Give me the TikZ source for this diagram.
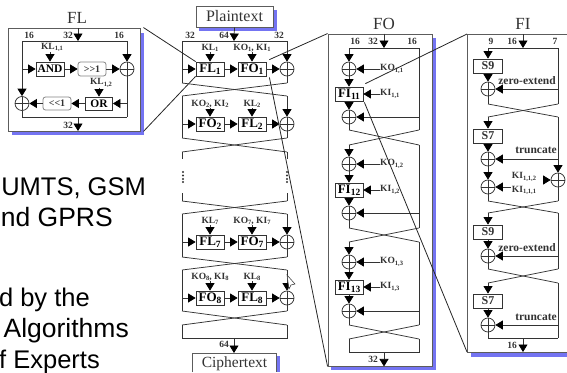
\documentclass[tikz,border=0pt]{standalone}
\usepackage{fontspec}
\setmainfont{Liberation Serif}
\newfontfamily\armfont{Liberation Sans}
\usetikzlibrary{arrows.meta}
\definecolor{ink}{HTML}{333333}
\definecolor{shadeblue}{HTML}{7474F2}
\newcommand\sbs[1]{\raisebox{-1.6pt}{\fontsize{6.5}{6.5}\selectfont #1}}
\newcommand\bsb[1]{\raisebox{-2pt}{\fontsize{9.5}{9.5}\selectfont #1}}
\tikzset{
  line/.style={draw=ink,line width=.75pt},
  arr/.style={line,-{Triangle[length=7.5pt,width=9pt,color=black,fill=black]}},
  panel/.style={draw=ink!80,line width=.9pt,fill=white,inner sep=0pt},
  kbox/.style={draw=ink,line width=.8pt,fill=white,inner sep=0pt,minimum height=14pt,font=\fontsize{13}{13}\selectfont\bfseries},
  rbox/.style={draw=ink!60,line width=.8pt,rounded corners=2.5pt,fill=white,inner sep=0pt,minimum height=14pt,minimum width=28pt,font=\fontsize{10}{12}\selectfont\bfseries,text=ink},
  lab/.style={inner sep=0pt,text=ink,font=\fontsize{9.5}{10}\selectfont\bfseries},
  title/.style={inner sep=0pt,text=ink,font=\fontsize{17}{17}\selectfont},
  xorn/.style={circle,draw=ink,line width=.75pt,minimum size=14pt,inner sep=0pt,
    path picture={\draw[ink,line width=.7pt] (path picture bounding box.north)--(path picture bounding box.south)
      (path picture bounding box.west)--(path picture bounding box.east);}},
  bigtext/.style={inner sep=0pt,anchor=base east,font=\armfont\fontsize{25.5}{26}\selectfont,text=black},
  zoomline/.style={draw=black!85,line width=.8pt},
  dotmark/.style={fill=ink}
}
% main-cipher round: id, top, bottom, centre y, box1, box2, lab1, lab2, label y
\newcommand\mround[9]{
  \coordinate (#1tl) at (182,#2); \coordinate (#1tr) at (287,#2);
  \coordinate (#1bl) at (182,#3); \coordinate (#1br) at (287,#3);
  \coordinate (#1in) at (182,#4);
  \node[kbox,minimum width=28pt] (#1a) at (210,#4) {#5};
  \node[kbox,minimum width=28pt] (#1b) at (252,#4) {#6};
  \node[xorn] (#1x) at (287,#4) {};
  \node[lab] (#1la) at (210,#9) {#7};
  \node[lab] (#1lb) at (252,#9) {#8};
  \draw[line] (#1tl)--(#1bl);
  \draw[arr] (#1tr)--(#1x);
  \draw[line] (#1x)--(#1br);
  \draw[arr] (#1in)--(#1a);
  \draw[arr] (#1a)--(#1b);
  \draw[arr] (#1b)--(#1x);
  \draw[arr] (#1la.south)--(#1a.north);
  \draw[arr] (#1lb.south)--(#1b.north);
}
\newcommand\crossing[2]{\draw[line] (#1bl)--(#2tr); \draw[line] (#1br)--(#2tl);}
% FO round: id, top, bottom, xor1 y, FI y, xor2 y, FI subscript, KO sub, KI sub
\newcommand\foround[9]{
  \coordinate (#1tl) at (349,#2); \coordinate (#1tr) at (419,#2);
  \coordinate (#1bl) at (349,#3); \coordinate (#1br) at (419,#3);
  \coordinate (#1s) at (419,#6);
  \node[xorn] (#1x) at (349,#4) {};
  \node[kbox,minimum width=28pt] (#1f) at (349,#5) {FI\bsb{#7}};
  \node[xorn] (#1y) at (349,#6) {};
  \node[lab,anchor=west] (#1ko) at (380,#4) {KO\sbs{#8}};
  \node[lab,anchor=west] (#1ki) at (380,#5) {KI\sbs{#9}};
  \draw[arr] (#1tl)--(#1x);
  \draw[arr] (#1x)--(#1f);
  \draw[arr] (#1f)--(#1y);
  \draw[line] (#1y)--(#1bl);
  \draw[line] (#1tr)--(#1br);
  \draw[arr] (#1ko)--(#1x);
  \draw[arr] (#1ki)--(#1f);
  \draw[arr] (#1s)--(#1y);
}
% FI round: id, top, bottom, box y, xor y, box text, label, label x, label y
\newcommand\firound[9]{
  \coordinate (#1tl) at (488,#2); \coordinate (#1tr) at (558,#2);
  \coordinate (#1bl) at (488,#3); \coordinate (#1br) at (558,#3);
  \coordinate (#1s) at (558,#5);
  \node[kbox,minimum width=29pt,font=\fontsize{12}{12}\selectfont\bfseries,text=ink] (#1b) at (488,#4) {#6};
  \node[xorn] (#1x) at (488,#5) {};
  \node[lab,font=\fontsize{11.5}{12}\selectfont\bfseries] (#1l) at (#8,#9) {#7};
  \draw[arr] (#1tl)--(#1b);
  \draw[arr] (#1b)--(#1x);
  \draw[arr] (#1s)--(#1x);
}
\begin{document}
\begin{tikzpicture}[x=1pt,y=-1pt]
\useasboundingbox (0,0) rectangle (567,372);

% left text
\node[bigtext] (t1) at (146,195) {UMTS, GSM};
\node[bigtext,font=\armfont\fontsize{26.5}{27}\selectfont] (t2) at (113,226) {nd GPRS};
\node[bigtext] (t3) at (90,306) {d by the};
\node[bigtext,font=\armfont\fontsize{26.5}{27}\selectfont] (t4) at (129,337) {Algorithms};
\node[bigtext] (t5) at (100,368) {f Experts};

% ---------- FL panel
\fill[shadeblue] (12,33) rectangle (144,135);
\node[panel,minimum width=132pt,minimum height=103pt] (flp) at (74,79.5) {};
\node[title] (flt) at (77,18) {FL};
\coordinate (fltl) at (22,41); \coordinate (fltr) at (127,41);
\coordinate (flbl) at (22,117); \coordinate (flbr) at (127,117);
\coordinate (fltm) at (78,41); \coordinate (flbm) at (78,117);
\coordinate (flinl) at (22,69); \coordinate (flinr) at (127,103.5);
\coordinate (flin) at (78,28); \coordinate (flout) at (78,131);
\draw[line] (fltl)--(fltr) (flbl)--(flbr);
\node[kbox,minimum width=28pt,font=\fontsize{11.5}{12}\selectfont\bfseries] (fland) at (50,69) {AND};
\node[rbox] (flshr) at (92,69) {>{}>1};
\node[xorn] (flx1) at (127,69) {};
\node[kbox,minimum width=27pt,minimum height=13pt,font=\fontsize{11.5}{12}\selectfont\bfseries] (flor) at (99,103.5) {OR};
\node[rbox,minimum height=13pt] (flshl) at (57,103.5) {<{}<1};
\node[xorn] (flx2) at (22,103.5) {};
\node[lab] (flk1) at (52,47.5) {KL\sbs{1,1}};
\node[lab] (flk2) at (101,83) {KL\sbs{1,2}};
\node[lab] (fla) at (29,35) {16};
\node[lab] (flb) at (68,35) {32};
\node[lab] (flc) at (119,35) {16};
\node[lab] (fld) at (68,125) {32};
\draw[arr] (flin)--(fltm);
\draw[arr] (flbm)--(flout);
\draw[arr] (fltl)--(flx2);
\draw[line] (flx2)--(flbl);
\draw[arr] (fltr)--(flx1);
\draw[line] (flx1)--(flbr);
\draw[arr] (flinl)--(fland);
\draw[arr] (fland)--(flshr);
\draw[arr] (flshr)--(flx1);
\draw[arr] (flinr)--(flor);
\draw[arr] (flor)--(flshl);
\draw[arr] (flshl)--(flx2);
\draw[arr] (fland.north |- flk1.south)--(fland.north);
\draw[arr] (flor.north |- flk2.south)--(flor.north);

% ---------- main cipher
\fill[shadeblue] (199,10) rectangle (277,31);
\node[panel,minimum width=77pt,minimum height=21pt,font=\fontsize{16}{17}\selectfont,text=ink] (pt) at (234.5,16.5) {Plaintext};
\node[lab] (m32a) at (190,35) {32};
\node[lab] (m64a) at (224,35) {64};
\node[lab] (m32b) at (279,35) {32};
\coordinate (mtop) at (234,41);
\draw[arr] (pt.south)--(mtop);
\mround{ma}{41}{83}{69}{FL\bsb{1}}{FO\bsb{1}}{KL\sbs{1}}{KO\sbs{1}, KI\sbs{1}}{48}
\draw[line] (matl)--(matr);
\mround{mb}{96}{138}{124}{FO\bsb{2}}{FL\bsb{2}}{KO\sbs{2}, KI\sbs{2}}{KL\sbs{2}}{104}
\crossing{ma}{mb}
% broken part
\coordinate (mctl) at (182,152); \coordinate (mctr) at (287,152);
\coordinate (mcsl) at (182,159); \coordinate (mcsr) at (287,159);
\crossing{mb}{mc}
\draw[line] (mctl)--(mcsl) (mctr)--(mcsr);
\foreach \yy in {172,175.5,179,182}{
  \fill[dotmark] (183,\yy) circle (1.2);
  \fill[dotmark] (287,\yy) circle (1.2);
}
\coordinate (mdsl) at (182,193); \coordinate (mdsr) at (287,193);
\coordinate (mdbl) at (182,201); \coordinate (mdbr) at (287,201);
\draw[line] (mdsl)--(mdbl) (mdsr)--(mdbr);
\mround{me}{214}{257}{242}{FL\bsb{7}}{FO\bsb{7}}{KL\sbs{7}}{KO\sbs{7}, KI\sbs{7}}{221}
\crossing{md}{me}
\mround{mf}{270}{311}{298}{FO\bsb{8}}{FL\bsb{8}}{KO\sbs{8}, KI\sbs{8}}{KL\sbs{8}}{277}
\crossing{me}{mf}
\coordinate (mgtl) at (182,325); \coordinate (mgtr) at (287,325);
\coordinate (mgbl) at (182,338); \coordinate (mgbr) at (287,338);
\crossing{mf}{mg}
\draw[line] (mgtl)--(mgbl)--(mgbr)--(mgtr);
% ciphertext box, running off the page
\fill[shadeblue] (276,356) rectangle (280,372);
\node[inner sep=0pt,font=\fontsize{15.5}{16}\selectfont,text=ink] (ct) at (234.5,364) {Ciphertext};
\coordinate (ctnw) at (192,353); \coordinate (ctne) at (276,353);
\coordinate (ctsw) at (192,372); \coordinate (ctse) at (276,372);
\draw[line,draw=ink!80] (ctsw)--(ctnw)--(ctne)--(ctse);
\coordinate (mbot) at (234,338); \coordinate (ctin) at (234,353);
\draw[arr] (mbot)--(ctin);
\node[lab] (m64b) at (224,344) {64};
% mouse pointer
\coordinate (cu1) at (287,275); \coordinate (cu2) at (295,284);
\coordinate (cu3) at (291,285); \coordinate (cu4) at (289,289);
\filldraw[fill=white,draw=ink,line width=.5pt] (cu1)--(cu2)--(cu3)--(cu4)--cycle;

% ---------- FO panel
\fill[shadeblue] (331,38) rectangle (436,370);
\node[panel,minimum width=104pt,minimum height=332pt] (fop) at (380,200) {};
\node[title] (fot) at (384,24) {FO};
\node[lab] (foa) at (355,41) {16};
\node[lab] (fob) at (373,41) {32};
\node[lab] (foc) at (412,41) {16};
\coordinate (fotm) at (384,48);
\draw[arr] (fop.north -| fotm)--(fotm);
\foround{fa}{48}{130}{69}{94}{117}{11}{1,1}{1,1}
\draw[line] (fatl)--(fatr);
\foround{fb}{145}{228}{164}{190}{213}{12}{1,2}{1,2}
\crossing{fa}{fb}
\foround{fc}{242}{325}{262}{287}{311}{13}{1,3}{1,3}
\crossing{fb}{fc}
\coordinate (fdtl) at (349,339); \coordinate (fdtr) at (419,339);
\coordinate (fdbl) at (349,352); \coordinate (fdbr) at (419,352);
\crossing{fc}{fd}
\draw[line] (fdtl)--(fdbl)--(fdbr)--(fdtr);
\coordinate (fobm) at (384,352);
\draw[arr] (fobm)--(fobm |- fop.south);
\node[lab] (fod) at (373,359) {32};

% ---------- FI panel, running off the page
\fill[shadeblue] (471,352) rectangle (567,357);
\coordinate (fine) at (567,34); \coordinate (finw) at (467,34);
\coordinate (fisw) at (467,352); \coordinate (fise) at (567,352);
\draw[line,draw=ink!80,line width=.9pt] (fine)--(finw)--(fisw)--(fise);
\node[title] (fit) at (523,24) {FI};
\node[lab] (fia) at (491,41) {9};
\node[lab] (fib) at (512,41) {16};
\node[lab] (fic) at (555,41) {7};
\coordinate (fiin) at (523,34); \coordinate (fitm) at (523,48);
\draw[arr] (fiin)--(fitm);
\firound{ia}{48}{104}{66}{89}{S9}{zero-extend}{527}{81}
\draw[line] (iatl)--(iatr) (iatr)--(iabr) (iax)--(iabl);
\firound{ib}{117}{201}{136}{159}{S7}{truncate}{536}{150}
\crossing{ia}{ib}
\node[xorn] (ibr) at (558,180) {};
\node[xorn] (iby) at (488,187) {};
\node[lab] (ik2) at (524,177) {KI\sbs{1,1,2}};
\node[lab] (ik1) at (524,190.5) {KI\sbs{1,1,1}};
\coordinate (ik2e) at (543,180); \coordinate (ik1e) at (511,187);
\draw[arr] (ibtr)--(ibr);
\draw[line] (ibr)--(ibbr);
\draw[arr] (ibx)--(iby);
\draw[line] (iby)--(ibbl);
\draw[arr] (ik2e)--(ibr);
\draw[arr] (ik1e)--(iby);
\firound{ic}{213}{269}{232}{256}{S9}{zero-extend}{527}{248}
\crossing{ib}{ic}
\draw[line] (ictr)--(icbr) (icx)--(icbl);
\firound{id}{283}{338}{301}{325}{S7}{truncate}{536}{317}
\crossing{ic}{id}
\draw[line] (idtr)--(idbr) (idx)--(idbl) (idbl)--(idbr);
\coordinate (fibm) at (523,338); \coordinate (fiout) at (523,352);
\draw[arr] (fibm)--(fiout);
\node[lab] (fid) at (512,345) {16};

% ---------- magnifying lines
\draw[zoomline] ([xshift=3pt]flp.north east)--(maa.north west);
\draw[zoomline] ([xshift=3pt]flp.south east)--(maa.south west);
\draw[zoomline] ([shift={(3pt,2pt)}]mab.north east)--(fop.north west);
\draw[zoomline] ([shift={(3pt,-1pt)}]mab.south east)--(fop.south west);
\draw[zoomline] ([shift={(2pt,3pt)}]faf.north east)--(finw);
\draw[zoomline] ([shift={(1pt,-1pt)}]faf.south east)--(fisw);
\end{tikzpicture}
\end{document}
